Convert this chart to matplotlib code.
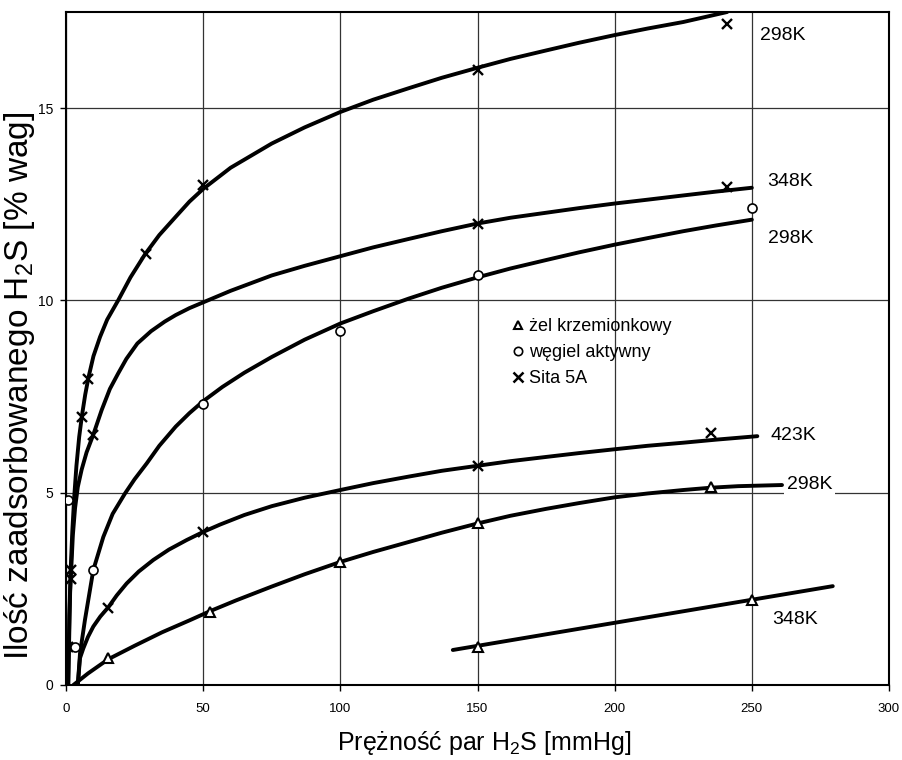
import matplotlib
matplotlib.use('Agg')
import matplotlib.pyplot as plt
from matplotlib.lines import Line2D

plt.rcParams['font.family'] = ['Liberation Sans', 'DejaVu Sans']
plt.rcParams['mathtext.fontset'] = 'custom'
plt.rcParams['mathtext.rm'] = 'Liberation Sans'
plt.rcParams['mathtext.it'] = 'Liberation Sans:italic'

# fitted curves (pressure mmHg, % wag)
sita298_x = [0.8, 1.2, 1.7, 2.3, 3.0, 3.8, 4.8, 5.8, 7.0, 8.2, 10.0, 12.4, 15.0, 19.0, 23.5, 28.8, 34.0, 40.3, 45.0, 50.0,
             60.0, 75.0, 87.0, 100.0, 112.0, 125.0, 137.0, 150.0, 162.0, 175.0, 187.0, 200.0, 212.0, 225.0, 241.0]
sita298_y = [0.0, 1.8, 3.0, 4.0, 4.9, 5.7, 6.45, 7.0, 7.55, 8.0, 8.55, 9.05, 9.5, 10.0, 10.6, 11.2, 11.7, 12.2, 12.57, 12.9,
             13.45, 14.08, 14.5, 14.9, 15.22, 15.52, 15.79, 16.05, 16.28, 16.5, 16.7, 16.9, 17.07, 17.24, 17.5]

sita348_x = [0.8, 1.5, 2.5, 3.3, 4.3, 5.7, 7.5, 9.9, 13.0, 16.0, 19.0, 22.0, 26.0, 31.0, 36.0, 40.0, 45.0, 50.0,
             60.0, 75.0, 87.0, 100.0, 112.0, 125.0, 137.0, 150.0, 162.0, 175.0, 187.0, 200.0, 212.0, 225.0, 237.0, 250.0]
sita348_y = [0.0, 2.4, 3.9, 4.6, 5.15, 5.6, 6.05, 6.5, 7.15, 7.7, 8.1, 8.48, 8.88, 9.2, 9.45, 9.62, 9.8, 9.95,
             10.25, 10.65, 10.9, 11.15, 11.38, 11.6, 11.8, 12.0, 12.15, 12.28, 12.4, 12.52, 12.62, 12.73, 12.83, 12.93]

sita423_x = [4.3, 5.1, 6.3, 8.0, 9.95, 12.5, 15.4, 18.5, 22.1, 26.5, 31.8, 37.5, 44.0, 50.0, 56.1, 65.0, 75.0, 87.0,
             100.0, 112.0, 125.0, 137.0, 150.0, 162.0, 175.0, 187.0, 200.0, 212.0, 225.0, 237.0, 252.0]
sita423_y = [0.0, 0.7, 0.95, 1.25, 1.52, 1.78, 2.02, 2.33, 2.64, 2.95, 3.25, 3.52, 3.77, 3.98, 4.17, 4.42, 4.65, 4.87,
             5.07, 5.25, 5.42, 5.57, 5.7, 5.82, 5.93, 6.03, 6.13, 6.22, 6.3, 6.38, 6.47]

wegiel298_x = [4.3, 5.1, 6.9, 9.95, 13.6, 17.0, 21.5, 25.0, 29.4, 34.0, 40.0, 45.0, 50.0, 57.0, 65.0, 75.0, 87.0,
               100.0, 112.0, 125.0, 137.0, 150.0, 162.0, 175.0, 187.0, 200.0, 212.0, 225.0, 237.0, 250.0]
wegiel298_y = [0.0, 0.82, 1.69, 2.99, 3.85, 4.45, 4.98, 5.35, 5.76, 6.22, 6.72, 7.07, 7.38, 7.75, 8.12, 8.53, 8.98,
               9.4, 9.72, 10.05, 10.33, 10.6, 10.83, 11.05, 11.25, 11.45, 11.62, 11.8, 11.95, 12.1]

zel298_x = [2.7, 8.0, 15.4, 25.0, 35.0, 45.0, 52.5, 62.0, 75.0, 87.0, 100.0, 112.0, 125.0, 137.0, 150.0, 162.0,
            175.0, 187.0, 200.0, 212.0, 225.0, 235.0, 245.0, 261.0]
zel298_y = [0.0, 0.3, 0.67, 1.02, 1.37, 1.68, 1.92, 2.2, 2.56, 2.88, 3.2, 3.46, 3.72, 3.96, 4.2, 4.4,
            4.58, 4.73, 4.88, 4.98, 5.07, 5.13, 5.17, 5.2]

zel348_x = [141.0, 279.5]
zel348_y = [0.91, 2.57]

# measured points
sita_pts_x = [0.7, 1.8, 1.8, 5.7, 8.0, 29.0, 50.0, 150.0, 240.8,
              9.9, 150.0, 240.8,
              15.4, 50.0, 150.0, 235.0]
sita_pts_y = [1.0, 2.75, 3.0, 6.97, 7.95, 11.2, 13.0, 16.0, 17.2,
              6.5, 12.0, 12.95,
              2.0, 3.98, 5.7, 6.55]
wegiel_pts_x = [0.8, 3.3, 9.95, 50.0, 100.0, 150.0, 250.0]
wegiel_pts_y = [4.8, 1.0, 2.99, 7.3, 9.2, 10.65, 12.4]
zel_pts_x = [15.4, 52.5, 100.0, 150.0, 235.0, 150.0, 250.0]
zel_pts_y = [0.69, 1.9, 3.2, 4.2, 5.15, 1.0, 2.2]

# temperature labels: (x, y, text)
temp_labels = [(261.2, 16.9, '298K'), (264.1, 13.1, '348K'), (264.1, 11.62, '298K'),
               (265.2, 6.49, '423K'), (271.0, 5.22, '298K'), (265.6, 1.69, '348K')]

fig = plt.figure(figsize=(9.03, 7.60), dpi=100)
ax = fig.add_axes([0.0731, 0.0987, 0.9114, 0.8855])

for cx, cy in [(sita298_x, sita298_y), (sita348_x, sita348_y), (sita423_x, sita423_y),
               (wegiel298_x, wegiel298_y), (zel298_x, zel298_y), (zel348_x, zel348_y)]:
    ax.plot(cx, cy, color='black', lw=2.8, solid_capstyle='round', solid_joinstyle='round', zorder=3)

ax.plot(sita_pts_x, sita_pts_y, ls='none', marker='x', ms=7.5, mew=1.7, color='black', zorder=4)
ax.plot(wegiel_pts_x, wegiel_pts_y, ls='none', marker='o', ms=6.5, mew=1.2, mfc='white', mec='black', zorder=4)
ax.plot(zel_pts_x, zel_pts_y, ls='none', marker='^', ms=6.5, mew=1.5, mfc='white', mec='black', zorder=4)

for tx, ty, tt in temp_labels:
    ax.text(tx, ty, tt, fontsize=14, ha='center', va='center', zorder=5,
            bbox=dict(facecolor='white', edgecolor='none', pad=2))

handles = [Line2D([], [], ls='none', marker='^', ms=6, mew=1.5, mfc='white', mec='black'),
           Line2D([], [], ls='none', marker='o', ms=6, mew=1.2, mfc='white', mec='black'),
           Line2D([], [], ls='none', marker='x', ms=7, mew=1.8, color='black')]
ax.legend(handles, ['żel krzemionkowy', 'węgiel aktywny', 'Sita 5A'],
          loc='upper left', bbox_to_anchor=(0.543, 0.545), frameon=False, fontsize=13,
          handlelength=0.6, handletextpad=0.3, borderaxespad=0, borderpad=0, labelspacing=0.5)

ax.set_xlim(0, 300)
ax.set_ylim(0, 17.5)
ax.set_xticks([0, 50, 100, 150, 200, 250, 300])
ax.set_yticks([0, 5, 10, 15])
ax.grid(True, color='#333333', lw=0.9)
ax.set_axisbelow(True)
for s in ax.spines.values():
    s.set_linewidth(1.5)
ax.tick_params(axis='x', direction='out', length=4, width=1, labelsize=9.5, pad=9)
ax.tick_params(axis='y', direction='out', length=4, width=1, labelsize=10, pad=5)

ax.set_xlabel('Prężność par H$_2$S [mmHg]', fontsize=18)
ax.xaxis.set_label_coords(0.508, -0.066)
ax.set_ylabel('Ilość zaadsorbowanego H$_2$S [% wag]', fontsize=24)
ax.yaxis.set_label_coords(-0.035, 0.444)

plt.savefig('out.png', dpi=100)
